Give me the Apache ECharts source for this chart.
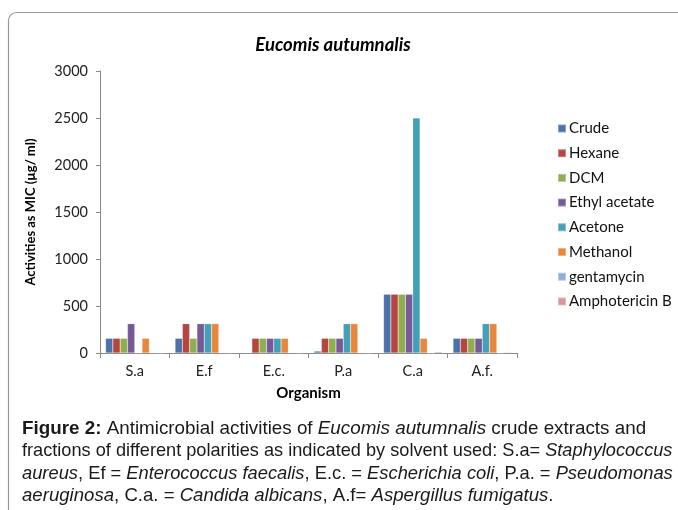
<!DOCTYPE html>
<html>
<head>
<meta charset="utf-8">
<script src="https://cdn.jsdelivr.net/npm/echarts@6/dist/echarts.min.js"></script>
<style>
  html, body { margin: 0; padding: 0; background: #fff; }
  #main { width: 678px; height: 510px; }
</style>
</head>
<body>
<div id="main"></div>
<script>
// organisms on the x axis
var organisms = ['S.a', 'E.f', 'E.c.', 'P.a', 'C.a', 'A.f.'];

// MIC values (µg/ml) per solvent
var crude        = [156, 156, 4, 20, 625, 156];
var hexane       = [156, 312, 156, 156, 625, 156];
var dcm          = [156, 156, 156, 156, 625, 156];
var ethylAcetate = [312, 312, 156, 156, 625, 156];
var acetone      = [4, 312, 156, 312, 2500, 312];
var methanol     = [156, 312, 156, 312, 156, 312];
var gentamycin   = [5, 5, 5, 5, 0, 0];
var amphotericin = [0, 0, 0, 0, 12, 8];

var seriesNames = ['Crude', 'Hexane', 'DCM', 'Ethyl acetate', 'Acetone', 'Methanol', 'gentamycin', 'Amphotericin B'];
var seriesData = [crude, hexane, dcm, ethylAcetate, acetone, methanol, gentamycin, amphotericin];
var colors = ['#4a72aa', '#b5463f', '#8fae4f', '#765a98', '#449fb9', '#e8873c', '#93aed6', '#d99593'];

var yTicks = [0, 500, 1000, 1500, 2000, 2500, 3000];

var chartFont = 'Lato';
var capFont = '"Liberation Sans", Arial, sans-serif';

var myChart = echarts.init(document.getElementById('main'));

var series = seriesNames.map(function (name, i) {
    return {
        name: name,
        type: 'bar',
        data: seriesData[i],
        barGap: '0%',
        barCategoryGap: '16%',
        itemStyle: {color: colors[i], borderColor: 'rgba(255,255,255,0.35)', borderWidth: 0.5},
        animation: false
    };
});

// caption lines; each one stretched/squeezed so the block looks justified like the print
var captionLines = [
    '{b|Figure 2:} Antimicrobial activities of {i|Eucomis autumnalis} crude extracts and',
    'fractions of different polarities as indicated by solvent used: S.a= {i|Staphylococcus}',
    '{i|aureus}, Ef = {i|Enterococcus faecalis}, E.c. = {i|Escherichia coli}, P.a. = {i|Pseudomonas}',
    '{i|aeruginosa}, C.a. = {i|Candida albicans}, A.f= {i|Aspergillus fumigatus}.'
];
var captionScale = [0.99, 0.956, 0.964, 0.979];

var captionGraphics = captionLines.map(function (line, i) {
    return {
        type: 'text',
        x: 22,
        y: 419 + i * 22.4,
        scaleX: captionScale[i],
        style: {
            text: line,
            font: '19px ' + capFont,
            fill: '#1a1a1a',
            rich: {
                b: {fontWeight: 'bold', fontSize: 19, fontFamily: capFont, fill: '#1a1a1a'},
                i: {fontStyle: 'italic', fontSize: 19, fontFamily: capFont, fill: '#1a1a1a'}
            }
        },
        silent: true
    };
});

var option = {
    animation: false,
    textStyle: {fontFamily: chartFont},
    title: {
        text: 'Eucomis autumnalis',
        left: 328,
        top: 31,
        textAlign: 'center',
        textStyle: {fontFamily: chartFont, fontSize: 18.5, fontWeight: 'bold', fontStyle: 'italic', color: '#000'}
    },
    legend: {
        orient: 'vertical',
        left: 552,
        top: 116,
        itemWidth: 8,
        itemHeight: 8,
        itemGap: 9.7,
        icon: 'rect',
        textStyle: {fontFamily: chartFont, fontSize: 15, color: '#111', padding: [0, 0, 0, -2]},
        data: seriesNames
    },
    grid: {left: 100, right: 161, top: 71, bottom: 157, containLabel: false},
    xAxis: {
        type: 'category',
        data: organisms,
        name: 'Organism',
        nameLocation: 'middle',
        nameGap: 33,
        nameTextStyle: {fontFamily: chartFont, fontSize: 15, fontWeight: 'bold', color: '#000'},
        axisLine: {lineStyle: {color: '#8a8a8a'}},
        axisTick: {show: true, length: 5, lineStyle: {color: '#8a8a8a'}},
        axisLabel: {fontFamily: chartFont, fontSize: 14.5, color: '#222', margin: 11}
    },
    yAxis: {
        type: 'value',
        min: yTicks[0],
        max: yTicks[yTicks.length - 1],
        interval: 500,
        name: 'Activities as MIC (µg/ ml)',
        nameLocation: 'middle',
        nameGap: 63,
        nameTextStyle: {fontFamily: chartFont, fontSize: 13, fontWeight: 'bold', color: '#000'},
        axisLine: {show: true, lineStyle: {color: '#8a8a8a'}},
        axisTick: {show: true, length: 4, lineStyle: {color: '#8a8a8a'}},
        splitLine: {show: false},
        axisLabel: {
            fontFamily: chartFont, fontSize: 14.5, color: '#222', margin: 12,
            formatter: function (v) { return String(v); }
        }
    },
    graphic: [
        {
            type: 'rect',
            shape: {x: 8.5, y: 12.5, width: 700, height: 520, r: 8},
            style: {fill: 'none', stroke: '#999', lineWidth: 1.2},
            silent: true
        }
    ].concat(captionGraphics),
    series: series
};

myChart.setOption(option);
</script>
</body>
</html>
